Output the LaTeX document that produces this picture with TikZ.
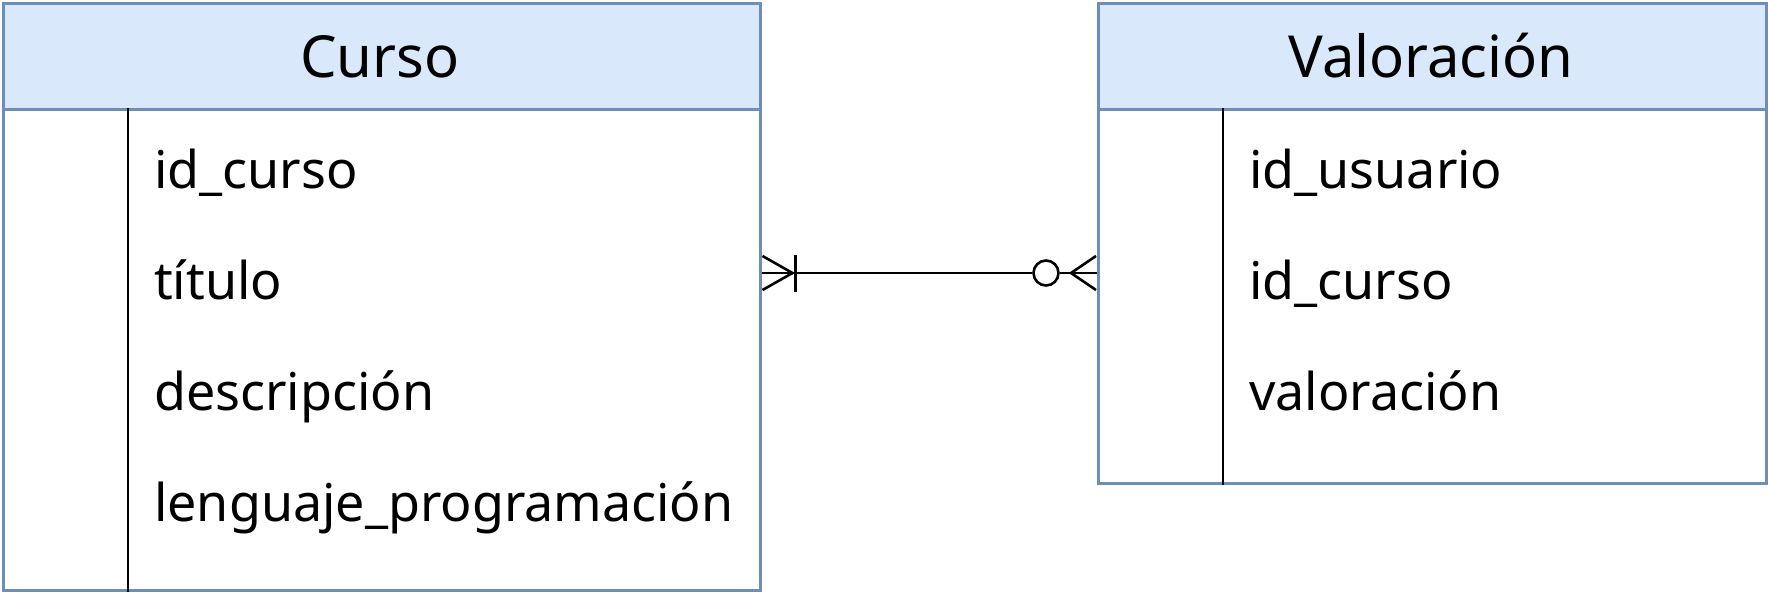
\documentclass[tikz,border=0pt]{standalone}
\usepackage{fontspec}
\setmainfont{Noto Sans}
\usetikzlibrary{calc}
\definecolor{hdrc}{HTML}{DAE8FC}
\definecolor{bordc}{HTML}{6C8EBF}
\begin{document}
\begin{tikzpicture}[x=1pt,y=-1pt,
  hdrbox/.style={draw=bordc, fill=hdrc, line width=2.5pt, inner sep=0pt, anchor=north west},
  bodybox/.style={draw=bordc, fill=white, line width=2.5pt, inner sep=0pt, anchor=north west},
  attr/.style={anchor=base west, inner sep=0pt, font=\fontsize{52}{60}\selectfont},
  ttl/.style={anchor=base, inner sep=0pt, font=\fontsize{58}{66}\selectfont},
  divider/.style={line width=2.4pt, black},
  rel/.style={line width=2.6pt, black}]
\useasboundingbox[fill=white] (0,0) rectangle (1768,592);

% Curso table
\node[bodybox, minimum width=757pt, minimum height=481pt] (cursob) at (2,108) {};
\node[hdrbox, minimum width=757pt, minimum height=106pt] (cursoh) at (2,2) {};
\draw[divider] ($(cursob.north west)+(126,0)$) -- ($(cursob.south west)+(126,0)$);
\node[ttl] (cursot) at (380,77) {Curso};
\node[attr] (c1) at (154,188) {id\_curso};
\node[attr] (c2) at (154,299) {título};
\node[attr] (c3) at (154,410) {descripción};
\node[attr] (c4) at (154,521) {lenguaje\_programación};

% Valoracion table
\node[bodybox, minimum width=668pt, minimum height=374pt] (valb) at (1097,108) {};
\node[hdrbox, minimum width=668pt, minimum height=106pt] (valh) at (1097,2) {};
\draw[divider] ($(valb.north west)+(126,0)$) -- ($(valb.south west)+(126,0)$);
\node[ttl] (valt) at (1431,77) {Valoración};
\node[attr] (v1) at (1249,188) {id\_usuario};
\node[attr] (v2) at (1249,299) {id\_curso};
\node[attr] (v3) at (1249,410) {valoración};

% relationship
\coordinate (ry) at (0,273);
\coordinate (L) at (cursob.east |- ry);
\coordinate (R) at (valb.west |- ry);
\node[draw, rel, circle, minimum size=25pt, inner sep=0pt, fill=white] (circ) at ($(R)+(-51,0)$) {};
\draw[rel] (L) -- (circ.west);
\draw[rel] (circ.east) -- (R);
% one-or-many at Curso
\draw[rel] ($(L)+(31,0)$) -- ($(L)+(1,-17)$);
\draw[rel] ($(L)+(31,0)$) -- ($(L)+(1,17)$);
\draw[rel] ($(L)+(34,-18)$) -- ($(L)+(34,19)$);
% zero-or-many at Valoracion
\draw[rel] ($(R)+(-26,0)$) -- ($(R)+(-1,-17)$);
\draw[rel] ($(R)+(-26,0)$) -- ($(R)+(-1,17)$);
\end{tikzpicture}
\end{document}
